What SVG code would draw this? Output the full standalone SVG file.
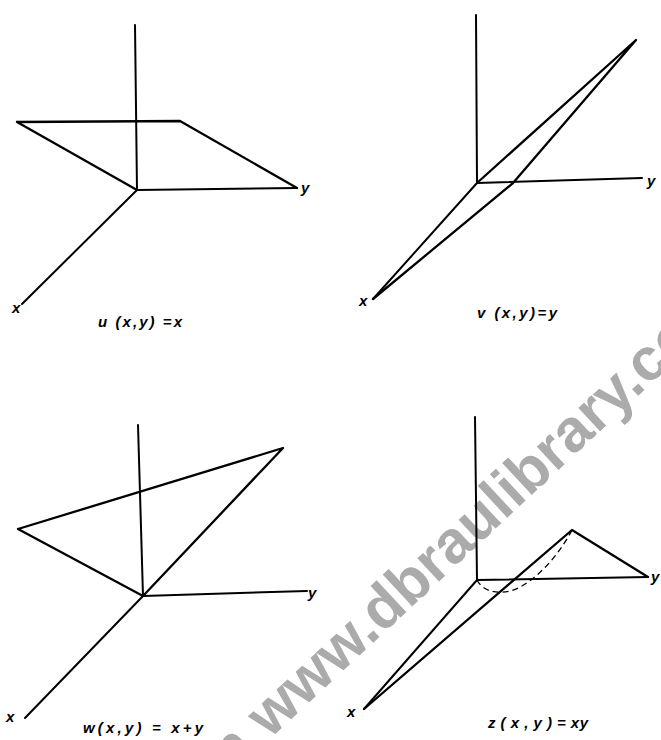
<svg xmlns="http://www.w3.org/2000/svg" width="661" height="740" viewBox="0 0 661 740">
<style>
.ln{stroke:#000;stroke-width:2.3;fill:none;stroke-linecap:round;stroke-linejoin:round}
.ax{stroke:#000;stroke-width:2;fill:none;stroke-linecap:round}
.ds{stroke:#000;stroke-width:1.3;fill:none;stroke-dasharray:6 4}
.lb{font-family:"Liberation Sans",Arial,sans-serif;font-weight:bold;font-style:italic;font-size:15px;fill:#000}
.cap{font-family:"Liberation Sans",Arial,sans-serif;font-weight:bold;font-style:italic;font-size:15px;fill:#000}
.wm{font-family:"Liberation Sans",Arial,sans-serif;font-weight:bold;font-size:60px;fill:#ababab}
</style>
<rect width="661" height="740" fill="#fff"/>
<text class="wm" transform="translate(167,835) rotate(-43)">com www.dbraulibrary.com</text>

<g id="panel-u">
<path class="ax" d="M135,25 L137,190 M137,190 L297,188 M137,190 L22,304"/>
<path class="ln" d="M17,122 L180,121 L297,188 M17,122 L137,190"/>
<text class="lb" x="301" y="193">y</text>
<text class="lb" x="12" y="313">x</text>
<text class="cap" x="98" y="327" textLength="84" lengthAdjust="spacing">u (x,y) =x</text>
</g>

<g id="panel-v">
<path class="ax" d="M476,15 L477,183 M477,183 L642,178 M477,183 L373,299"/>
<path class="ln" d="M477,183 L636,40 L513,183 L373,299"/>
<text class="lb" x="647" y="186">y</text>
<text class="lb" x="359" y="306">x</text>
<text class="cap" x="477" y="318" textLength="80" lengthAdjust="spacing">v (x,y)=y</text>
</g>

<g id="panel-w">
<path class="ax" d="M138,425 L143,596 M143,596 L307,591 M143,596 L25,718"/>
<path class="ln" d="M18,529 L283,448 L143,596 L18,529"/>
<text class="lb" x="308" y="598">y</text>
<text class="lb" x="6" y="722">x</text>
<text class="cap" x="83" y="733" textLength="120" lengthAdjust="spacing">w(x,y) = x+y</text>
</g>

<g id="panel-z">
<path class="ax" d="M475,417 L477,580 M477,580 L648,577 M477,580 L364,709"/>
<path class="ln" d="M364,709 L572,530 L648,577"/>
<path class="ds" d="M477,580 C484,594 505,596 522,586 C545,572 562,549 572,530"/>
<text class="lb" x="651" y="582">y</text>
<text class="lb" x="347" y="717">x</text>
<text class="cap" x="488" y="728" textLength="100" lengthAdjust="spacing">z ( x , y ) = xy</text>
</g>
</svg>
